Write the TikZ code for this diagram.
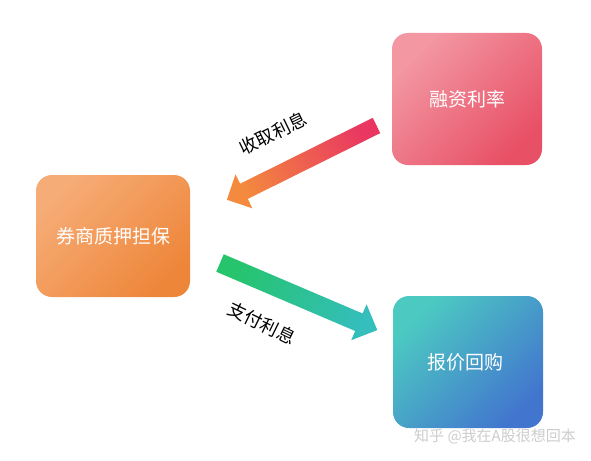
\documentclass[tikz,border=0pt]{standalone}
\usepackage{fontspec}
\setmainfont{Noto Sans CJK SC}
\definecolor{pinkA}{RGB}{243,152,163}
\definecolor{pinkB}{RGB}{232,80,102}
\definecolor{oranA}{RGB}{246,172,118}
\definecolor{oranB}{RGB}{238,134,58}
\definecolor{tealA}{RGB}{76,202,194}
\definecolor{tealB}{RGB}{66,118,206}
\definecolor{arrRed}{RGB}{233,55,97}
\definecolor{arrOra}{RGB}{243,138,62}
\definecolor{arrGrn}{RGB}{38,196,108}
\definecolor{arrTeal}{RGB}{52,190,188}
\definecolor{wmark}{RGB}{205,205,205}
\tikzset{
  boxshape/.style={rounded corners=16pt, shading=axis},
  boxtext/.style={text=white, font=\fontsize{19}{22}\selectfont},
  arrlabel/.style={font=\fontsize{18}{21}\selectfont, text=black, inner sep=0pt},
}
\begin{document}
\begin{tikzpicture}[x=1pt,y=-1pt]
\useasboundingbox[fill=white] (0,0) rectangle (591,460);
% boxes
\path[boxshape, top color=pinkA, bottom color=pinkB, shading angle=45]
  (392,33) rectangle (542,165);
\node[boxtext] (rate) at (467,99) {融资利率};
\path[boxshape, top color=oranA, bottom color=oranB, shading angle=45]
  (36,175) rectangle (190,297);
\node[boxtext] (pledge) at (113,236) {券商质押担保};
\path[boxshape, top color=tealA, bottom color=tealB, shading angle=45]
  (393,296) rectangle (543,428);
\node[boxtext] (repo) at (465,362) {报价回购};
% arrow 1 (收取利息)
\begin{scope}[shift={(376.5,125.5)}, rotate=206.4]
  \path[shading=axis, top color=arrRed, bottom color=arrOra, shading angle=-63.6]
    (0,-8.5) -- (148,-8.5) -- (148,-19) -- (167,0) -- (148,19) -- (148,8.5) -- (0,8.5) -- cycle;
\end{scope}
% arrow 2 (支付利息)
\begin{scope}[shift={(220,263)}, rotate=-23.1]
  \path[shading=axis, top color=arrGrn, bottom color=arrTeal, shading angle=66.2]
    (0,-9.5) -- (151,-9.5) -- (151,-19.5) -- (171,0) -- (151,19.5) -- (151,9.5) -- (0,9.5) -- cycle;
\end{scope}
% labels
\node[arrlabel, rotate=26] (l1) at (273,133) {收取利息};
\node[arrlabel, rotate=-26] (l2) at (262,323) {支付利息};
% watermark
\node[text=wmark, font=\fontsize{15}{18}\selectfont, inner sep=0pt] (wm) at (495,436) {知乎 @我在A股很想回本};
\end{tikzpicture}
\end{document}
